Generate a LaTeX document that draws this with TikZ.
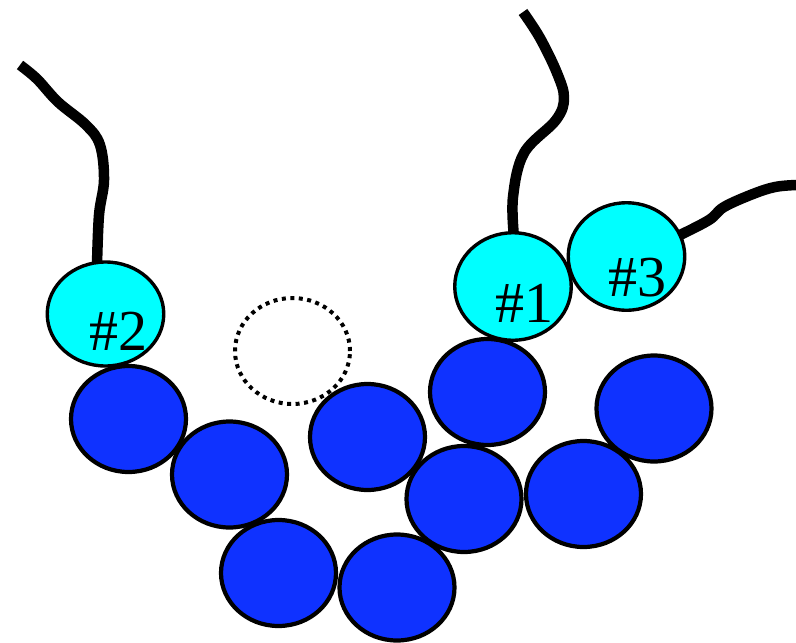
\documentclass[tikz,border=0pt]{standalone}
\usepackage{fontspec}
\setmainfont{Liberation Serif}
\usetikzlibrary{shapes.geometric}
\definecolor{bluebead}{RGB}{15,50,255}
\definecolor{cyanbead}{RGB}{0,255,255}
\begin{document}
\begin{tikzpicture}[x=1pt,y=-1pt,
  bead/.style={ellipse, draw=black, line width=4.2pt, fill=bluebead, inner sep=0pt, minimum width=115pt, minimum height=106pt},
  cbead/.style={ellipse, draw=black, line width=3.4pt, fill=cyanbead, inner sep=0pt, minimum width=116.5pt, minimum height=107.5pt},
  ghost/.style={ellipse, draw=black, line width=4pt, dash pattern=on 4pt off 4.5pt, inner sep=0pt, minimum width=115pt, minimum height=106pt},
  tail/.style={line width=10.5pt, line cap=butt, line join=round},
  lbl/.style={font=\fontsize{58}{58}\selectfont, inner sep=0pt}]
\useasboundingbox (0,0) rectangle (796,643);
% ghost
\node[ghost] (g) at (292.5,351) {};
% tails
\coordinate (t2) at (20,65);
\coordinate (t1) at (523,12);
\coordinate (t3) at (796,185);
\draw[tail] plot[smooth, tension=0.6] coordinates {(97,265) (99,215) (104,180) (100,145) (86,125) (58,102) (37,79) (t2)};
\draw[tail] plot[smooth, tension=0.6] coordinates {(514,237) (513,197) (524,153) (556,120) (564,98) (557,73) (540,38) (t1)};
\draw[tail] plot[smooth, tension=0.6] coordinates {(678,236) (709,220) (724,207) (753,194) (775,187) (t3)};
% cyan beads over tail ends
\node[cbead, minimum width=116.5pt, minimum height=104pt] (c2) at (105.5,314) {};
\node[cbead] (c1) at (513,286.5) {};
\node[cbead] (c3) at (626.5,256.5) {};
\node[lbl] (l2) at (118.5,331) {\#2};
\node[lbl] (l1) at (524,303) {\#1};
\node[lbl] (l3) at (637.5,278) {\#3};
% blue beads
\node[bead] (a) at (128.5,419) {};
\node[bead] (b) at (229.5,474.5) {};
\node[bead] (c) at (278.5,573) {};
\node[bead] (d) at (397,587.5) {};
\node[bead] (e) at (367.5,437) {};
\node[bead] (f) at (487.5,392) {};
\node[bead] (gg) at (464,499) {};
\node[bead] (h) at (583.5,494) {};
\node[bead] (i) at (654,408.5) {};
\end{tikzpicture}
\end{document}
